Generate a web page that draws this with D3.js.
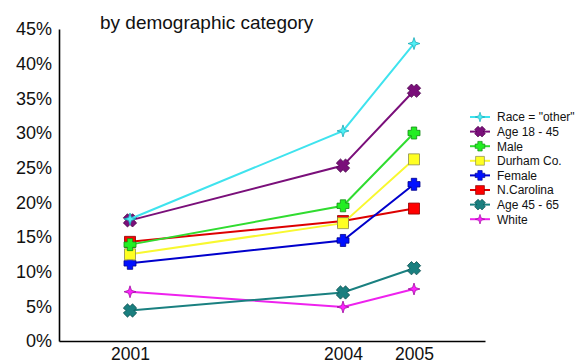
<!DOCTYPE html>
<html>
<head>
<meta charset="utf-8">
<script src="https://cdn.jsdelivr.net/npm/d3@7"></script>
<style>
  html, body { margin: 0; padding: 0; background: #fff; }
  svg { display: block; font-family: Arial, "Liberation Sans", sans-serif; }
</style>
</head>
<body>
<svg id="chart" width="579" height="364"></svg>
<script>
// Survey years and share of respondents per demographic group
const years = [2001, 2004, 2005];
const seriesNames = ["Race = \"other\"", "Age 18 - 45", "Male", "Durham Co.", "Female", "N.Carolina", "Age 45 - 65", "White"];
const raceOther = [0.176, 0.303, 0.429];
const age18to45 = [0.174, 0.253, 0.361];
const male      = [0.139, 0.195, 0.300];
const durham    = [0.125, 0.170, 0.262];
const female    = [0.112, 0.145, 0.226];
const ncarolina = [0.143, 0.173, 0.191];
const age45to65 = [0.044, 0.070, 0.105];
const white     = [0.071, 0.049, 0.075];
const yTicks = [0, 0.05, 0.10, 0.15, 0.20, 0.25, 0.30, 0.35, 0.40, 0.45];
const subtitle = "by demographic category";

const seriesValues = [raceOther, age18to45, male, durham, female, ncarolina, age45to65, white];

// styling per series: line colour, marker fill, marker outline, marker shape
const styles = [
  { line: "#3fe3ee", fill: "#4ff0f5", stroke: "#1aa9b8", shape: "star" },
  { line: "#7a0f7a", fill: "#7a0f7a", stroke: "#4a044a", shape: "x" },
  { line: "#30dc30", fill: "#22ee22", stroke: "#148a14", shape: "plus" },
  { line: "#f8f830", fill: "#ffff22", stroke: "#8a8a50", shape: "square" },
  { line: "#0000cc", fill: "#0010ff", stroke: "#00008a", shape: "plus" },
  { line: "#dd0000", fill: "#ff0000", stroke: "#8a0000", shape: "square" },
  { line: "#1a8080", fill: "#1a7f7f", stroke: "#0d4f4f", shape: "x" },
  { line: "#ee22ee", fill: "#ff22ff", stroke: "#a010a0", shape: "star" }
];

const svg = d3.select("#chart");

const x = d3.scaleLinear().domain([2000, 2006]).range([59, 485]);
const y = d3.scaleLinear().domain([0, 0.45]).range([341, 29]);

// subtitle
svg.append("text")
  .attr("x", 100).attr("y", 29)
  .attr("font-size", 19).attr("fill", "#111")
  .text(subtitle);

// axes
const yAxis = d3.axisLeft(y)
  .tickValues(yTicks)
  .tickSize(0).tickPadding(7)
  .tickFormat(d3.format(".0%"));
const gy = svg.append("g").attr("transform", "translate(59,0)").call(yAxis);
gy.select(".domain").attr("stroke", "#000").attr("stroke-width", 1.6);
gy.selectAll("text").attr("font-size", 18).attr("fill", "#111")
  .attr("font-family", "Arial, 'Liberation Sans', sans-serif");

const xAxis = d3.axisBottom(x)
  .tickValues(years)
  .tickSize(0).tickPadding(7)
  .tickFormat(d3.format("d"));
const gx = svg.append("g").attr("transform", "translate(0,341)").call(xAxis);
gx.select(".domain").attr("stroke", "#000").attr("stroke-width", 1.6);
gx.selectAll("text").attr("font-size", 17.5).attr("fill", "#111")
  .attr("font-family", "Arial, 'Liberation Sans', sans-serif");

// marker shapes centred on the origin, r = half size
function markerPath(shape, r) {
  if (shape === "square") {
    return `M${-r},${-r}H${r}V${r}H${-r}Z`;
  }
  if (shape === "star") {
    const ri = r * 0.34;
    const pts = [];
    for (let i = 0; i < 8; i++) {
      const a = -Math.PI / 2 + i * Math.PI / 4;
      const rr = i % 2 === 0 ? r : ri;
      pts.push([rr * Math.cos(a), rr * Math.sin(a)]);
    }
    return "M" + pts.map(p => p[0].toFixed(2) + "," + p[1].toFixed(2)).join("L") + "Z";
  }
  // plus / x: a thick cross, x rotated 45 degrees
  const w = r * 0.45;
  const p = [[-w,-r],[w,-r],[w,-w],[r,-w],[r,w],[w,w],[w,r],[-w,r],[-w,w],[-r,w],[-r,-w],[-w,-w]];
  const rot = shape === "x" ? Math.PI / 4 : 0;
  const c = Math.cos(rot), s = Math.sin(rot);
  return "M" + p.map(([px, py]) => (px * c - py * s).toFixed(2) + "," + (px * s + py * c).toFixed(2)).join("L") + "Z";
}

function markerSize(shape) {
  return shape === "square" ? 5.5 : shape === "star" ? 6 : shape === "x" ? 6.5 : 6;
}

const line = d3.line().x((d, i) => x(years[i])).y(d => y(d));

// draw series back to front so the first listed sits on top
const order = d3.range(seriesValues.length).reverse();
order.forEach(k => {
  const st = styles[k];
  const g = svg.append("g");
  g.append("path")
    .datum(seriesValues[k])
    .attr("d", line)
    .attr("fill", "none")
    .attr("stroke", st.line)
    .attr("stroke-width", 2);
  g.selectAll("path.mk")
    .data(seriesValues[k])
    .join("path")
    .attr("class", "mk")
    .attr("transform", (d, i) => `translate(${x(years[i])},${y(d)})`)
    .attr("d", markerPath(st.shape, markerSize(st.shape)))
    .attr("fill", st.fill)
    .attr("stroke", st.stroke)
    .attr("stroke-width", 0.8)
    .attr("stroke-linejoin", "round");
});

// legend
const legend = svg.append("g").attr("transform", "translate(480,117)");
const rowH = 14.6;
seriesNames.forEach((name, k) => {
  const st = styles[k];
  const row = legend.append("g").attr("transform", `translate(0,${k * rowH})`);
  row.append("line")
    .attr("x1", -10).attr("x2", 10)
    .attr("stroke", st.line).attr("stroke-width", 2);
  row.append("path")
    .attr("d", markerPath(st.shape, markerSize(st.shape) * 0.8))
    .attr("fill", st.fill)
    .attr("stroke", st.stroke)
    .attr("stroke-width", 0.7)
    .attr("stroke-linejoin", "round");
  row.append("text")
    .attr("x", 17).attr("dy", "0.36em")
    .attr("font-size", 12).attr("fill", "#111")
    .text(name);
});
</script>
</body>
</html>
